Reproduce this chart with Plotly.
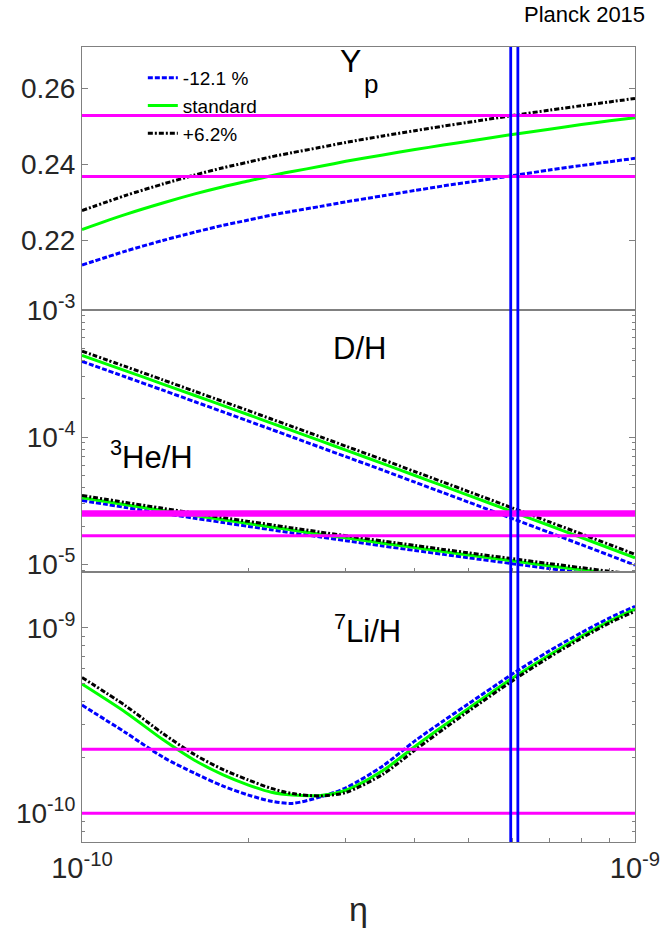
import plotly.graph_objects as go
from plotly.subplots import make_subplots

# baryon-to-photon ratio grid
eta = [1.0e-10, 1.2e-10, 1.4e-10, 1.6e-10, 1.8e-10, 2.0e-10, 2.2e-10, 2.4e-10, 2.7e-10,
       3.0e-10, 3.5e-10, 4.0e-10, 4.5e-10, 5.0e-10, 6.0e-10, 7.0e-10, 8.0e-10, 9.0e-10, 1.0e-9]

series_names = ["-12.1 %", "standard", "+6.2%"]

# Helium-4 mass fraction
yp_minus = [0.2134, 0.2171, 0.2199, 0.2221, 0.2239, 0.2253, 0.2266, 0.2276, 0.2289, 0.2301,
            0.2317, 0.2331, 0.2343, 0.2353, 0.2370, 0.2385, 0.2397, 0.2407, 0.2416]
yp_std = [0.2228, 0.2268, 0.2298, 0.2322, 0.2341, 0.2356, 0.2370, 0.2381, 0.2395, 0.2408,
          0.2425, 0.2439, 0.2451, 0.2461, 0.2479, 0.2493, 0.2505, 0.2515, 0.2523]
yp_plus = [0.2278, 0.2318, 0.2348, 0.2372, 0.2391, 0.2406, 0.2420, 0.2431, 0.2445, 0.2458,
           0.2475, 0.2489, 0.2501, 0.2511, 0.2529, 0.2543, 0.2555, 0.2565, 0.2574]

# Deuterium
dh_minus = [3.929e-4, 2.963e-4, 2.334e-4, 1.895e-4, 1.575e-4, 1.335e-4, 1.148e-4, 1.000e-4, 8.293e-5,
            7.012e-5, 5.491e-5, 4.420e-5, 3.655e-5, 3.081e-5, 2.289e-5, 1.779e-5, 1.428e-5, 1.176e-5, 9.878e-6]
dh_std = [4.375e-4, 3.307e-4, 2.608e-4, 2.120e-4, 1.764e-4, 1.497e-4, 1.288e-4, 1.124e-4, 9.329e-5,
          7.896e-5, 6.190e-5, 4.989e-5, 4.130e-5, 3.485e-5, 2.595e-5, 2.019e-5, 1.623e-5, 1.338e-5, 1.125e-5]
dh_plus = [4.729e-4, 3.572e-4, 2.814e-4, 2.285e-4, 1.900e-4, 1.612e-4, 1.386e-4, 1.209e-4, 1.003e-4,
           8.480e-5, 6.642e-5, 5.353e-5, 4.427e-5, 3.732e-5, 2.777e-5, 2.158e-5, 1.733e-5, 1.429e-5, 1.200e-5]

# Helium-3
he_minus = [3.175e-5, 2.798e-5, 2.518e-5, 2.303e-5, 2.129e-5, 1.987e-5, 1.869e-5, 1.767e-5, 1.639e-5,
            1.534e-5, 1.395e-5, 1.286e-5, 1.198e-5, 1.126e-5, 1.013e-5, 9.273e-6, 8.604e-6, 8.066e-6, 7.616e-6]
he_std = [3.342e-5, 2.945e-5, 2.651e-5, 2.424e-5, 2.241e-5, 2.092e-5, 1.967e-5, 1.860e-5, 1.725e-5,
          1.615e-5, 1.468e-5, 1.354e-5, 1.261e-5, 1.185e-5, 1.066e-5, 9.761e-6, 9.057e-6, 8.491e-6, 8.017e-6]
he_plus = [3.476e-5, 3.063e-5, 2.757e-5, 2.521e-5, 2.331e-5, 2.176e-5, 2.046e-5, 1.934e-5, 1.794e-5,
           1.680e-5, 1.527e-5, 1.408e-5, 1.311e-5, 1.232e-5, 1.109e-5, 1.015e-5, 9.419e-6, 8.831e-6, 8.338e-6]

# Lithium-7
li_minus = [3.828e-10, 2.716e-10, 2.009e-10, 1.641e-10, 1.400e-10, 1.253e-10, 1.161e-10, 1.130e-10, 1.225e-10,
            1.371e-10, 1.799e-10, 2.455e-10, 3.141e-10, 3.890e-10, 5.623e-10, 7.499e-10, 9.397e-10, 1.130e-9, 1.303e-9]
li_std = [4.966e-10, 3.491e-10, 2.495e-10, 1.925e-10, 1.610e-10, 1.419e-10, 1.297e-10, 1.253e-10, 1.247e-10,
          1.330e-10, 1.698e-10, 2.291e-10, 2.951e-10, 3.673e-10, 5.333e-10, 7.129e-10, 8.995e-10, 1.086e-9, 1.259e-9]
li_plus = [5.395e-10, 3.784e-10, 2.692e-10, 2.065e-10, 1.718e-10, 1.510e-10, 1.361e-10, 1.276e-10, 1.239e-10,
           1.294e-10, 1.622e-10, 2.188e-10, 2.831e-10, 3.548e-10, 5.164e-10, 6.934e-10, 8.770e-10, 1.062e-9, 1.225e-9]

# observational limits (horizontal) and Planck eta band (vertical)
yp_obs = [0.2368, 0.2529]
dh_obs = [2.51e-5]
he_obs = [1.675e-5]
li_obs = [1.0e-10, 2.21e-10]
planck_eta = [5.96e-10, 6.14e-10]

x_ticks = [1e-10, 1e-9]
x_ticktext = ["10<sup>-10</sup>", "10<sup>-9</sup>"]
x_minor = [2e-10, 3e-10, 4e-10, 5e-10, 6e-10, 7e-10, 8e-10, 9e-10]
yp_ticks = [0.22, 0.24, 0.26]
dh_ticks = [1e-5, 1e-4, 1e-3]
dh_ticktext = ["10<sup>-5</sup>", "10<sup>-4</sup>", "10<sup>-3</sup>"]
li_ticks = [1e-10, 1e-9]
li_ticktext = ["10<sup>-10</sup>", "10<sup>-9</sup>"]

BLUE = "#0000ff"
GREEN = "#00ff00"
BLACK = "#000000"
MAG = "#ff00ff"
FRAME = "#808080"
TXT = "#262626"
FONT = "Liberation Sans, Arial, sans-serif"

styles = [dict(color=BLUE, width=3, dash="5px,2px", shape="spline", smoothing=0.8),
          dict(color=GREEN, width=3, dash="solid", shape="spline", smoothing=0.8),
          dict(color=BLACK, width=3, dash="5px,2px,2px,2px", shape="spline", smoothing=0.8)]

fig = make_subplots(rows=3, cols=1, vertical_spacing=0.0,
                    row_heights=[0.3305, 0.3299, 0.3396], shared_xaxes=False)

groups = [(yp_minus, yp_std, yp_plus, 1, True),
          (dh_minus, dh_std, dh_plus, 2, False),
          (he_minus, he_std, he_plus, 2, False),
          (li_minus, li_std, li_plus, 3, False)]
for lo, st, hi, row, leg in groups:
    vals = [lo, st, hi]
    for k in [0, 1, 2]:
        fig.add_trace(go.Scatter(x=eta, y=vals[k], mode="lines", name=series_names[k],
                                 line=styles[k], showlegend=leg, legendrank=k + 1),
                      row=row, col=1)

# horizontal observational lines (drawn above the curves)
for v in yp_obs:
    fig.add_hline(y=v, line=dict(color=MAG, width=3), layer="above", row=1, col=1)
for v in dh_obs:
    fig.add_hline(y=v, line=dict(color=MAG, width=6.5), layer="above", row=2, col=1)
for v in he_obs:
    fig.add_hline(y=v, line=dict(color=MAG, width=3), layer="above", row=2, col=1)
for v in li_obs:
    fig.add_hline(y=v, line=dict(color=MAG, width=3), layer="above", row=3, col=1)

# vertical Planck lines crossing all panels
for v in planck_eta:
    fig.add_shape(type="line", xref="x3", yref="paper", x0=v, x1=v, y0=0, y1=1,
                  line=dict(color=BLUE, width=2.8), layer="above")

tickfont = dict(family=FONT, size=28, color=TXT)
common_x = dict(type="log", range=[-10, -9], showgrid=False, zeroline=False, automargin=False,
                showline=True, linecolor=FRAME, linewidth=1, mirror=True)
fig.update_xaxes(**common_x)
fig.update_xaxes(row=1, col=1, ticks="", showticklabels=False)
for r in [2, 3]:
    fig.update_xaxes(row=r, col=1, ticks="inside", ticklen=4, tickcolor=FRAME,
                     tickvals=x_ticks, ticktext=x_ticktext,
                     minor=dict(tickvals=x_minor, ticks="inside", ticklen=4, tickcolor=FRAME))
fig.update_xaxes(row=2, col=1, showticklabels=False)
fig.update_xaxes(row=3, col=1, showticklabels=True, tickfont=dict(family=FONT, size=29, color=TXT),
                 title=dict(text="η", font=dict(family=FONT, size=34, color=TXT), standoff=14))

common_y = dict(showgrid=False, zeroline=False, showline=True, linecolor=FRAME, linewidth=1,
                automargin=False, mirror="ticks", ticks="inside", ticklen=6, tickcolor=FRAME,
                tickfont=tickfont)
fig.update_yaxes(**common_y)
fig.update_yaxes(row=1, col=1, range=[0.2016, 0.2710], tickvals=yp_ticks,
                 ticktext=["%.2f" % t for t in yp_ticks])
dh_minor = [m * 10.0 ** e for e in [-6, -5, -4] for m in range(2, 10)]
li_minor = [m * 10.0 ** e for e in [-11, -10] for m in range(2, 10)]
fig.update_yaxes(row=2, col=1, type="log", range=[-5.06, -3.0], tickvals=dh_ticks, ticktext=dh_ticktext,
                 minor=dict(tickvals=dh_minor, ticks="inside", ticklen=3, tickcolor=FRAME))
fig.update_yaxes(row=3, col=1, type="log", range=[-10.155, -8.70], tickvals=li_ticks, ticktext=li_ticktext,
                 minor=dict(tickvals=li_minor, ticks="inside", ticklen=3, tickcolor=FRAME))

labfont = dict(family=FONT, size=31, color="#000000")
ann = dict(showarrow=False, xanchor="center", yanchor="middle")
fig.add_annotation(xref="x domain", yref="y domain", x=0.485, y=0.945, text="Y",
                   font=dict(family=FONT, size=32, color="#000000"), **ann)
fig.add_annotation(xref="x domain", yref="y domain", x=0.523, y=0.858, text="p",
                   font=dict(family=FONT, size=26, color="#000000"), **ann)
fig.add_annotation(xref="x2 domain", yref="y2 domain", x=0.502, y=0.851, text="D/H",
                   font=labfont, **ann)
fig.add_annotation(xref="x2 domain", yref="y2 domain", x=0.125, y=0.445, text="<sup>3</sup>He/H",
                   font=labfont, **ann)
fig.add_annotation(xref="x3 domain", yref="y3 domain", x=0.517, y=0.79, text="<sup>7</sup>Li/H",
                   font=labfont, **ann)
fig.add_annotation(xref="paper", yref="paper", x=1.0217, y=1.0415, xanchor="right", yanchor="middle",
                   text="Planck 2015", showarrow=False, font=dict(family=FONT, size=22, color="#000000"))

fig.update_layout(
    width=663, height=938,
    margin=dict(l=82, r=28, t=47, b=96, autoexpand=False),
    paper_bgcolor="white", plot_bgcolor="white",
    font=dict(family=FONT, color=TXT),
    legend=dict(x=0.11, y=0.985, xanchor="left", yanchor="top", bgcolor="rgba(0,0,0,0)",
                font=dict(family=FONT, size=19, color="#000000"), tracegroupgap=0),
    showlegend=True,
)

fig.write_html("out.html", config={"displayModeBar": False},
               post_script="document.body.style.margin='0px';document.body.style.overflow='hidden';")
